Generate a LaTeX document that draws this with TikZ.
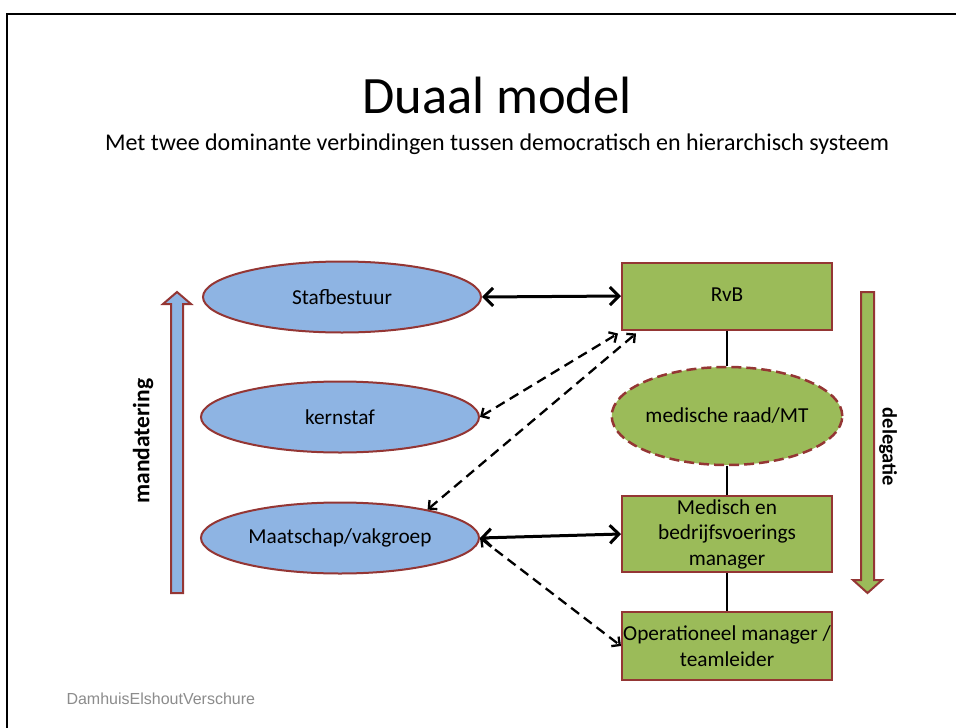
\documentclass[tikz,border=0pt]{standalone}
\usepackage{fontspec}
\setmainfont{Carlito}
\newfontfamily\footfont{Liberation Sans}
\usetikzlibrary{arrows.meta,shapes.geometric,calc}
\definecolor{ovalblue}{HTML}{8EB4E3}
\definecolor{boxgreen}{HTML}{9BBB59}
\definecolor{rimred}{HTML}{943634}
\definecolor{footgrey}{HTML}{8C8C8C}

\begin{document}
\begin{tikzpicture}[x=1pt,y=-1pt,
  oval/.style={ellipse, draw=rimred, line width=2pt, fill=ovalblue,
    minimum width=278pt, minimum height=71pt, inner sep=0pt,
    font=\fontsize{21.3}{25}\selectfont},
  unitbox/.style={rectangle, draw=rimred, line width=2pt, fill=boxgreen,
    minimum width=210pt, inner sep=0pt, align=center,
    font=\fontsize{21.3}{25.5}\selectfont},
  council/.style={ellipse, draw=rimred, line width=2.5pt, fill=boxgreen,
    dash pattern=on 10pt off 5pt, minimum width=220pt, minimum height=98pt,
    inner sep=0pt, font=\fontsize{21.3}{25}\selectfont},
  tie/.style={line width=1.3pt},
  mainlink/.style={line width=3pt,
    {Straight Barb[length=9pt,width=18pt]}-{Straight Barb[length=9pt,width=18pt]}},
  sidelink/.style={line width=2.3pt, dash pattern=on 10pt off 6pt,
    {Straight Barb[length=6pt,width=12pt]}-{Straight Barb[length=6pt,width=12pt]}},
  flowarrow/.style={draw=rimred, line width=2pt, line join=miter},
  sidelabel/.style={font=\fontsize{#1}{26}\selectfont\bfseries}
]
\useasboundingbox (0,0) rectangle (956,728);
\fill[white] (0,0) rectangle (956,728);

% slide frame
\draw[line width=2.5pt] (7,728) -- (7,14) -- (956,14);

% headings
\node[font=\fontsize{52.5}{60}\selectfont, anchor=base] (title) at (497,113) {Duaal model};
\node[font=\fontsize{24}{28}\selectfont, anchor=base] (subtitle) at (497,150)
  {Met twee dominante verbindingen tussen democratisch en hierarchisch systeem};

% democratic side
\node[oval] (staf) at (342,297) {Stafbestuur};
\node[oval] (kern) at (340,417) {kernstaf};
\node[oval] (maat) at (340,538) {Maatschap/vakgroep};

% hierarchical side
\node[unitbox, minimum height=67pt] (rvb) at (727,296) {\strut RvB};
\node[council] (mr) at (727,416) {medische raad/MT};
\node[unitbox, minimum height=76pt] (mbm) at (727,534) {Medisch en\\bedrijfsvoerings\\manager};
\node[unitbox, minimum height=68pt] (opm) at (727,646) {Operationeel manager /\\teamleider};

\draw[tie] (rvb.south) -- (mr.north);
\draw[tie] (mr.south) -- (mbm.north);
\draw[tie] (mbm.south) -- (opm.north);

% links between both systems
\draw[mainlink] (staf.east) -- (rvb.west);
\draw[mainlink] (maat.east) -- (mbm.west);
\draw[sidelink] (kern.east) -- ($(rvb.south west)+(-3,3)$);
\draw[sidelink] (maat.18) -- ($(rvb.south west)+(15,3)$);
\draw[sidelink] (maat.east) -- (opm.west);

% mandate and delegation arrows
\draw[flowarrow, fill=ovalblue] (171,593) -- (171,304) -- (163,304) -- (177,292)
  -- (191,304) -- (183,304) -- (183,593) -- cycle;
\draw[flowarrow, fill=boxgreen] (861,292) -- (861,580) -- (853,580) -- (867.5,593)
  -- (882,580) -- (874,580) -- (874,292) -- cycle;
\node[sidelabel=23.5, rotate=90] (mand) at (143,441) {mandatering};
\node[sidelabel=20.5, rotate=-90] (deleg) at (888,447) {delegatie};

% footer
\node[font=\footfont\fontsize{16}{18}\selectfont, text=footgrey, anchor=base west]
  (foot) at (63,704) {DamhuisElshoutVerschure};
\end{tikzpicture}
\end{document}
